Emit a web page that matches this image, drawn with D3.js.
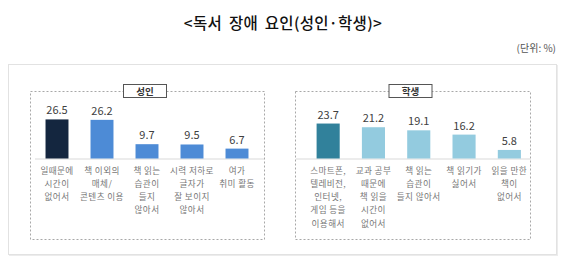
<!DOCTYPE html>
<html>
  <head>
    <meta charset="utf-8">
    <title>독서 장애 요인</title>
    <style>
      body { margin: 0; background: #fff; }
      svg text { font-family: "Noto Sans CJK KR", "Noto Sans", sans-serif; }
    </style>
  </head>
  <body>
    <div id="chart"></div>
    <script src="https://cdn.jsdelivr.net/npm/d3@7"></script>
    <script>
      (function(d3) {
        'use strict';
        // 성인
        var adultLabels = [
          ['일때문에', '시간이', '없어서'],
          ['책 이외의', '매체/', '콘텐츠 이용'],
          ['책 읽는', '습관이', '들지', '않아서'],
          ['시력 저하로', '글자가', '잘 보이지', '않아서'],
          ['여가', '취미 활동']
        ];
        var adultValues = [26.5, 26.2, 9.7, 9.5, 6.7];
        // 학생
        var studentLabels = [
          ['스마트폰,', '텔레비전,', '인터넷,', '게임 등을', '이용해서'],
          ['교과 공부', '때문에', '책 읽을', '시간이', '없어서'],
          ['책 읽는', '습관이', '들지 않아서'],
          ['책 읽기가', '싫어서'],
          ['읽을 만한', '책이', '없어서']
        ];
        var studentValues = [23.7, 21.2, 19.1, 16.2, 5.8];

        var width = 570;
        var height = 269;
        var baseY = 158.5;

        var svg = d3.select('#chart')
          .append('svg')
          .attr('width', width)
          .attr('height', height);

        svg.append('text')
          .attr('x', 283)
          .attr('y', 29)
          .attr('text-anchor', 'middle')
          .attr('font-size', 15.5)
          .attr('font-weight', 500)
          .attr('word-spacing', 3)
          .attr('letter-spacing', 0.3)
          .attr('fill', '#111')
          .text('<독서 장애 요인(성인·학생)>');

        svg.append('text')
          .attr('x', 556)
          .attr('y', 52)
          .attr('text-anchor', 'end')
          .attr('font-size', 10)
          .attr('fill', '#555')
          .text('(단위: %)');

        // outer panel
        svg.append('rect')
          .attr('x', 9.5).attr('y', 65.5)
          .attr('width', 548).attr('height', 190)
          .attr('fill', 'none')
          .attr('stroke', '#ececec');
        svg.append('rect')
          .attr('x', 8.5).attr('y', 64.5)
          .attr('width', 548).attr('height', 190)
          .attr('fill', '#fff')
          .attr('stroke', '#e2e2e2');

        var y = d3.scaleLinear()
          .domain([0, 30])
          .range([baseY, 114.25]);

        function panel(opts) {
          var g = svg.append('g');
          var x = d3.scaleBand()
            .domain(d3.range(opts.values.length))
            .range(opts.range)
            .paddingInner(0.49)
            .paddingOuter(0.245);

          g.append('rect')
            .attr('x', opts.box[0] + 0.5).attr('y', 91.5)
            .attr('width', opts.box[1] - opts.box[0]).attr('height', 148)
            .attr('fill', 'none')
            .attr('stroke', '#a8a8a8')
            .attr('stroke-dasharray', '2,2');

          g.append('line')
            .attr('x1', opts.axis[0]).attr('x2', opts.axis[1])
            .attr('y1', baseY + 0.5).attr('y2', baseY + 0.5)
            .attr('stroke', '#d9d9d9');

          g.selectAll('rect.bar')
            .data(opts.values)
            .enter()
            .append('rect')
            .attr('class', 'bar')
            .attr('x', function(d, i) { return x(i); })
            .attr('y', function(d) { return y(d); })
            .attr('width', x.bandwidth())
            .attr('height', function(d) { return baseY - y(d); })
            .attr('fill', function(d, i) { return i === 0 ? opts.first : opts.rest; });

          g.selectAll('text.val')
            .data(opts.values)
            .enter()
            .append('text')
            .attr('class', 'val')
            .attr('x', function(d, i) { return x(i) + x.bandwidth() / 2; })
            .attr('y', function(d) { return y(d) - 5; })
            .attr('text-anchor', 'middle')
            .attr('font-size', 11)
            .attr('fill', '#404040')
            .text(function(d) { return d.toFixed(1); });

          var cat = g.selectAll('text.cat')
            .data(opts.labels)
            .enter()
            .append('text')
            .attr('class', 'cat')
            .attr('text-anchor', 'middle')
            .attr('font-size', 8.6)
            .attr('letter-spacing', 0.4)
            .attr('fill', '#777');
          cat.selectAll('tspan')
            .data(function(d, i) { return d.map(function(t) { return { t: t, i: i }; }); })
            .enter()
            .append('tspan')
            .attr('x', function(d) { return x(d.i) + x.bandwidth() / 2; })
            .attr('y', function(d, j) { return 173.5 + j * 13.3; })
            .text(function(d) { return d.t; });

          var cx = (opts.box[0] + opts.box[1]) / 2 - 2;
          g.append('rect')
            .attr('x', cx - 21.5).attr('y', 84.5)
            .attr('width', 43).attr('height', 13)
            .attr('fill', '#fff')
            .attr('stroke', '#555');
          g.append('text')
            .attr('x', cx)
            .attr('y', 94.5)
            .attr('text-anchor', 'middle')
            .attr('font-size', 9.5)
            .attr('font-weight', 700)
            .attr('fill', '#333')
            .text(opts.title);
        }

        panel({
          title: '성인',
          values: adultValues,
          labels: adultLabels,
          range: [34.5, 259.5],
          box: [30, 264],
          axis: [35, 264],
          first: '#14263f',
          rest: '#4d8bd6'
        });

        panel({
          title: '학생',
          values: studentValues,
          labels: studentLabels,
          range: [305.5, 532],
          box: [295, 530],
          axis: [296, 531],
          first: '#31819b',
          rest: '#93cbdf'
        });
      })(window.d3);
    </script>
  </body>
</html>
